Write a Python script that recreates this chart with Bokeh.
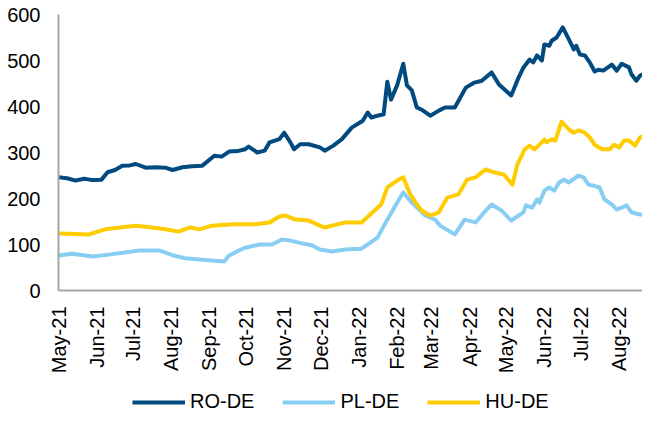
import math
import pandas as pd
from bokeh.plotting import figure
from bokeh.layouts import column
from bokeh.models import (Legend, LegendItem, DatetimeTickFormatter, MonthsTicker,
                          FixedTicker, Range1d)
from bokeh.embed import file_html
from bokeh.resources import INLINE

# ---------------- data ----------------
ro_dates = ["2021-05-01", "2021-05-08", "2021-05-15", "2021-05-22", "2021-05-29", "2021-06-05",
            "2021-06-10", "2021-06-16", "2021-06-22", "2021-06-28", "2021-07-03", "2021-07-11",
            "2021-07-19", "2021-07-27", "2021-08-02", "2021-08-10", "2021-08-18", "2021-08-26",
            "2021-09-05", "2021-09-11", "2021-09-17", "2021-09-24", "2021-09-30", "2021-10-03",
            "2021-10-10", "2021-10-16", "2021-10-20", "2021-10-28", "2021-11-01", "2021-11-06",
            "2021-11-09", "2021-11-14", "2021-11-21", "2021-11-30", "2021-12-04", "2021-12-11",
            "2021-12-18", "2021-12-26", "2022-01-04", "2022-01-08", "2022-01-11", "2022-01-16",
            "2022-01-21", "2022-01-24", "2022-01-27", "2022-02-01", "2022-02-06", "2022-02-09",
            "2022-02-13", "2022-02-17", "2022-02-21", "2022-02-28", "2022-03-07", "2022-03-12",
            "2022-03-20", "2022-03-29", "2022-04-05", "2022-04-11", "2022-04-19", "2022-04-25",
            "2022-05-05", "2022-05-11", "2022-05-15", "2022-05-20", "2022-05-23", "2022-05-26",
            "2022-05-30", "2022-06-01", "2022-06-05", "2022-06-07", "2022-06-11", "2022-06-16",
            "2022-06-21", "2022-06-25", "2022-06-27", "2022-06-30", "2022-07-04", "2022-07-08",
            "2022-07-12", "2022-07-15", "2022-07-19", "2022-07-26", "2022-07-30", "2022-08-03",
            "2022-08-09", "2022-08-11", "2022-08-15", "2022-08-18", "2022-08-20"]
ro_values = [246, 244, 239, 243, 240, 241, 257, 262, 271, 272, 275, 267,
             268, 267, 262, 268, 270, 271, 293, 291, 302, 303, 307, 313,
             300, 304, 322, 329, 343, 322, 307, 318, 318, 311, 304, 315,
             329, 354, 369, 387, 376, 380, 383, 454, 415, 446, 493, 446,
             435, 398, 393, 380, 391, 398, 398, 441, 452, 456, 474, 448,
             424, 463, 485, 502, 496, 511, 500, 535, 532, 543, 550, 572,
             546, 524, 532, 513, 511, 496, 476, 480, 478, 491, 478, 493,
             485, 470, 456, 467, 470]

hu_dates = ["2021-05-01", "2021-05-26", "2021-06-08", "2021-06-20", "2021-07-03", "2021-07-16",
            "2021-07-27", "2021-08-07", "2021-08-16", "2021-08-24", "2021-09-03", "2021-09-20",
            "2021-10-08", "2021-10-20", "2021-10-28", "2021-11-02", "2021-11-09", "2021-11-21",
            "2021-11-30", "2021-12-04", "2021-12-21", "2022-01-03", "2022-01-19", "2022-01-24",
            "2022-02-01", "2022-02-06", "2022-02-11", "2022-02-16", "2022-02-21", "2022-02-28",
            "2022-03-07", "2022-03-14", "2022-03-23", "2022-03-30", "2022-04-06", "2022-04-14",
            "2022-04-21", "2022-04-29", "2022-05-06", "2022-05-10", "2022-05-16", "2022-05-20",
            "2022-05-24", "2022-05-28", "2022-06-01", "2022-06-03", "2022-06-07", "2022-06-10",
            "2022-06-15", "2022-06-21", "2022-06-25", "2022-06-29", "2022-07-04", "2022-07-08",
            "2022-07-12", "2022-07-18", "2022-07-24", "2022-07-28", "2022-08-01", "2022-08-05",
            "2022-08-09", "2022-08-14", "2022-08-18", "2022-08-20"]
hu_values = [124, 122, 133, 137, 141, 137, 133, 128, 137, 133, 141, 144,
             144, 148, 161, 163, 155, 152, 141, 137, 148, 148, 187, 224,
             239, 246, 213, 191, 174, 163, 170, 202, 209, 241, 246, 263,
             257, 252, 230, 274, 307, 315, 307, 317, 328, 322, 329, 326,
             367, 350, 343, 348, 343, 333, 317, 307, 307, 317, 311, 326,
             326, 315, 333, 335]

pl_dates = ["2021-05-01", "2021-05-12", "2021-05-29", "2021-06-11", "2021-07-06", "2021-07-22",
            "2021-08-03", "2021-08-12", "2021-08-26", "2021-09-13", "2021-09-17", "2021-09-25",
            "2021-09-30", "2021-10-12", "2021-10-22", "2021-10-30", "2021-11-05", "2021-11-13",
            "2021-11-24", "2021-11-30", "2021-12-10", "2021-12-21", "2022-01-03", "2022-01-16",
            "2022-01-24", "2022-02-01", "2022-02-06", "2022-02-13", "2022-02-24", "2022-03-04",
            "2022-03-08", "2022-03-20", "2022-03-28", "2022-04-06", "2022-04-13", "2022-04-19",
            "2022-04-27", "2022-05-05", "2022-05-11", "2022-05-15", "2022-05-17", "2022-05-22",
            "2022-05-26", "2022-05-28", "2022-06-01", "2022-06-05", "2022-06-09", "2022-06-13",
            "2022-06-17", "2022-06-21", "2022-06-29", "2022-07-03", "2022-07-07", "2022-07-11",
            "2022-07-16", "2022-07-20", "2022-07-26", "2022-07-30", "2022-08-03", "2022-08-07",
            "2022-08-11", "2022-08-18", "2022-08-20"]
pl_values = [76, 80, 74, 78, 87, 87, 76, 70, 67, 63, 76, 87,
             93, 100, 100, 111, 109, 104, 98, 89, 85, 89, 91, 115,
             154, 191, 213, 191, 163, 154, 141, 122, 154, 148, 170, 187,
             174, 152, 163, 170, 185, 180, 198, 191, 217, 224, 217, 235,
             241, 235, 250, 246, 230, 228, 224, 198, 187, 176, 180, 185,
             170, 165, 165]

series_names = ["RO-DE", "PL-DE", "HU-DE"]
series_colors = ["#004A7F", "#87CEF2", "#FFCC00"]
y_ticks = [0, 100, 200, 300, 400, 500, 600]
x_start = "2021-05-01"
x_end = "2022-08-20"

FONT = "Liberation Sans"

p = figure(width=642, height=380, x_axis_type="datetime", output_backend="svg",
           toolbar_location=None,
           x_range=Range1d(pd.Timestamp(x_start), pd.Timestamp(x_end)),
           y_range=Range1d(0, 600),
           min_border_left=58, min_border_right=0, min_border_top=14,
           min_border_bottom=90)
p.outline_line_color = None
p.background_fill_color = "white"
p.border_fill_color = "white"
p.xgrid.visible = False
p.ygrid.visible = False

series = [(ro_dates, ro_values), (pl_dates, pl_values), (hu_dates, hu_values)]
for (d, v), col in zip(series, series_colors):
    p.line(pd.to_datetime(d), v, line_color=col, line_width=4, line_join="round")

# axes
p.yaxis.ticker = FixedTicker(ticks=y_ticks)
p.xaxis.ticker = MonthsTicker(months=list(range(12)))
p.xaxis.formatter = DatetimeTickFormatter(months="%b-%y", days="%b-%y")
p.xaxis.major_label_orientation = math.pi / 2
for ax in (p.xaxis[0], p.yaxis[0]):
    ax.axis_line_color = "#A6A6A6"
    ax.axis_line_width = 2
    ax.major_tick_line_color = None
    ax.minor_tick_line_color = None
    ax.major_tick_out = 0
    ax.major_tick_in = 0
    ax.minor_tick_out = 0
    ax.major_label_text_font = FONT
    ax.major_label_text_font_size = "20px"
    ax.major_label_text_color = "#000000"
p.yaxis.major_label_standoff = 18
p.xaxis.major_label_standoff = 16

# legend strip (separate figure so the legend is not clipped)
lg = figure(width=642, height=33, output_backend="svg", toolbar_location=None,
            x_range=Range1d(0, 1), y_range=Range1d(0, 1),
            min_border_left=0, min_border_right=0, min_border_top=0, min_border_bottom=0,
            x_axis_location=None, y_axis_location=None)
lg.grid.visible = False
lg.outline_line_color = None
lg.border_fill_color = "white"
# legend proxies: a point outside the visible range, only their legend glyphs show
dummy = [lg.line([-5, -4], [-5, -4], line_color=col, line_width=4) for col in series_colors]
legend = Legend(items=[LegendItem(label=n, renderers=[r]) for n, r in zip(series_names, dummy)],
                orientation="horizontal", location=(74, 0),
                glyph_width=53, glyph_height=20, label_height=20,
                label_standoff=5, spacing=28, padding=0, margin=0,
                border_line_color=None, background_fill_alpha=0,
                label_text_font=FONT, label_text_font_size="20px",
                label_text_color="#000000")
lg.add_layout(legend, "center")

open("out.html", "w").write(file_html(column(p, lg, spacing=0), INLINE))
